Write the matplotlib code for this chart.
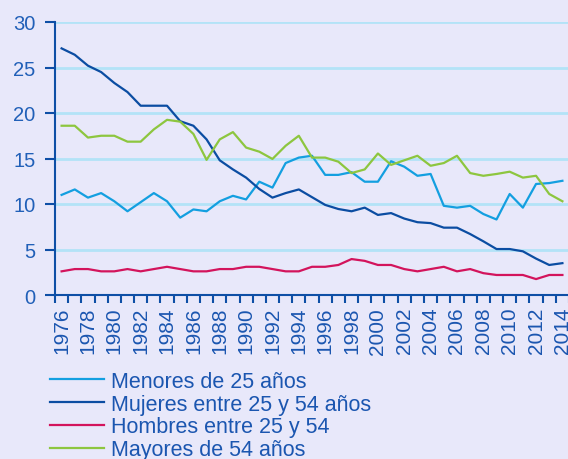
import matplotlib
matplotlib.use("Agg")
import matplotlib.pyplot as plt
from matplotlib.ticker import FixedLocator

plt.rcParams.update({
    "font.family": ["Liberation Sans", "DejaVu Sans"],
    "font.size": 13,
    "axes.linewidth": 1.5,
    "lines.linewidth": 1.6,
})

bg_color = "#E8E8FA"
axis_color = "#0E4FA6"
text_color = "#1B56B0"
grid_color = "#B3E3F7"

years = list(range(1976, 2015))

menores_25 = [11.0, 11.6, 10.7, 11.2, 10.3, 9.2, 10.2, 11.2, 10.3, 8.5,
              9.4, 9.2, 10.3, 10.9, 10.5, 12.45, 11.8, 14.5, 15.1, 15.3,
              13.2, 13.2, 13.5, 12.45, 12.45, 14.7, 14.1, 13.1, 13.3, 9.8,
              9.6, 9.8, 8.9, 8.3, 11.1, 9.6, 12.2, 12.3, 12.55]

mujeres_25_54 = [27.1, 26.4, 25.2, 24.5, 23.3, 22.3, 20.8, 20.8, 20.8, 19.1,
                 18.6, 17.1, 14.8, 13.8, 12.9, 11.65, 10.7, 11.2, 11.6, 10.75,
                 9.9, 9.45, 9.2, 9.6, 8.8, 9.0, 8.4, 8.0, 7.9, 7.4,
                 7.4, 6.7, 5.9, 5.05, 5.05, 4.8, 4.0, 3.3, 3.5]

hombres_25_54 = [2.6, 2.85, 2.85, 2.6, 2.6, 2.85, 2.6, 2.85, 3.1, 2.85,
                 2.6, 2.6, 2.85, 2.85, 3.1, 3.1, 2.85, 2.6, 2.6, 3.1,
                 3.1, 3.3, 3.95, 3.75, 3.3, 3.3, 2.85, 2.6, 2.85, 3.1,
                 2.6, 2.85, 2.4, 2.2, 2.2, 2.2, 1.75, 2.2, 2.2]

mayores_54 = [18.6, 18.6, 17.3, 17.5, 17.5, 16.85, 16.85, 18.2, 19.25, 19.05,
              17.7, 14.85, 17.1, 17.9, 16.2, 15.75, 14.95, 16.4, 17.5, 15.1,
              15.1, 14.65, 13.4, 13.8, 15.55, 14.3, 14.8, 15.3, 14.2, 14.5,
              15.3, 13.4, 13.1, 13.3, 13.55, 12.9, 13.1, 11.1, 10.3]

series = [
    ("Menores de 25 años", menores_25, "#139FE0"),
    ("Mujeres entre 25 y 54 años", mujeres_25_54, "#0B4DA2"),
    ("Hombres entre 25 y 54", hombres_25_54, "#D3145C"),
    ("Mayores de 54 años", mayores_54, "#8DC63F"),
]

fig = plt.figure(figsize=(5.68, 4.60), dpi=100)
fig.patch.set_facecolor(bg_color)
ax = fig.add_axes([55 / 568, 164 / 460, 514 / 568, 273 / 460])
ax.set_facecolor(bg_color)

# categories sit between the tick marks
x = list(range(len(years)))
for label, values, color in series:
    ax.plot(x, values, color=color, label=label, zorder=3)

ax.set_xlim(-0.5, len(years) - 0.5)
ax.set_ylim(0, 30)

# horizontal gridlines
for v in range(5, 31, 5):
    ax.axhline(v, color=grid_color, linewidth=2.0, zorder=1)

ax.set_yticks(range(0, 31, 5))
ax.tick_params(axis="y", colors=axis_color, labelcolor="#2160B8",
               direction="out", length=7, width=1.5, pad=7, labelsize=14.5)

ax.set_xticks(x[::2])
ax.set_xticklabels([str(y) for y in years[::2]], rotation=90)
ax.xaxis.set_minor_locator(FixedLocator([i - 0.5 for i in range(len(years) + 1)]))
ax.tick_params(axis="x", which="major", length=0, pad=8.5,
               labelcolor=text_color, labelsize=15)
ax.tick_params(axis="x", which="minor", colors=axis_color,
               direction="out", length=6, width=1.5)

for side in ["top", "right"]:
    ax.spines[side].set_visible(False)
for side in ["left", "bottom"]:
    ax.spines[side].set_color(axis_color)
    ax.spines[side].set_linewidth(1.5)

leg = fig.legend(loc="upper left", bbox_to_anchor=(50 / 568, 1 - 372 / 460),
                 frameon=False, fontsize=15.5, handlelength=2.5,
                 handletextpad=0.33, labelspacing=0.08, borderpad=0,
                 borderaxespad=0)
for t in leg.get_texts():
    t.set_color(text_color)

fig.savefig("out.png", dpi=100, facecolor=bg_color)
